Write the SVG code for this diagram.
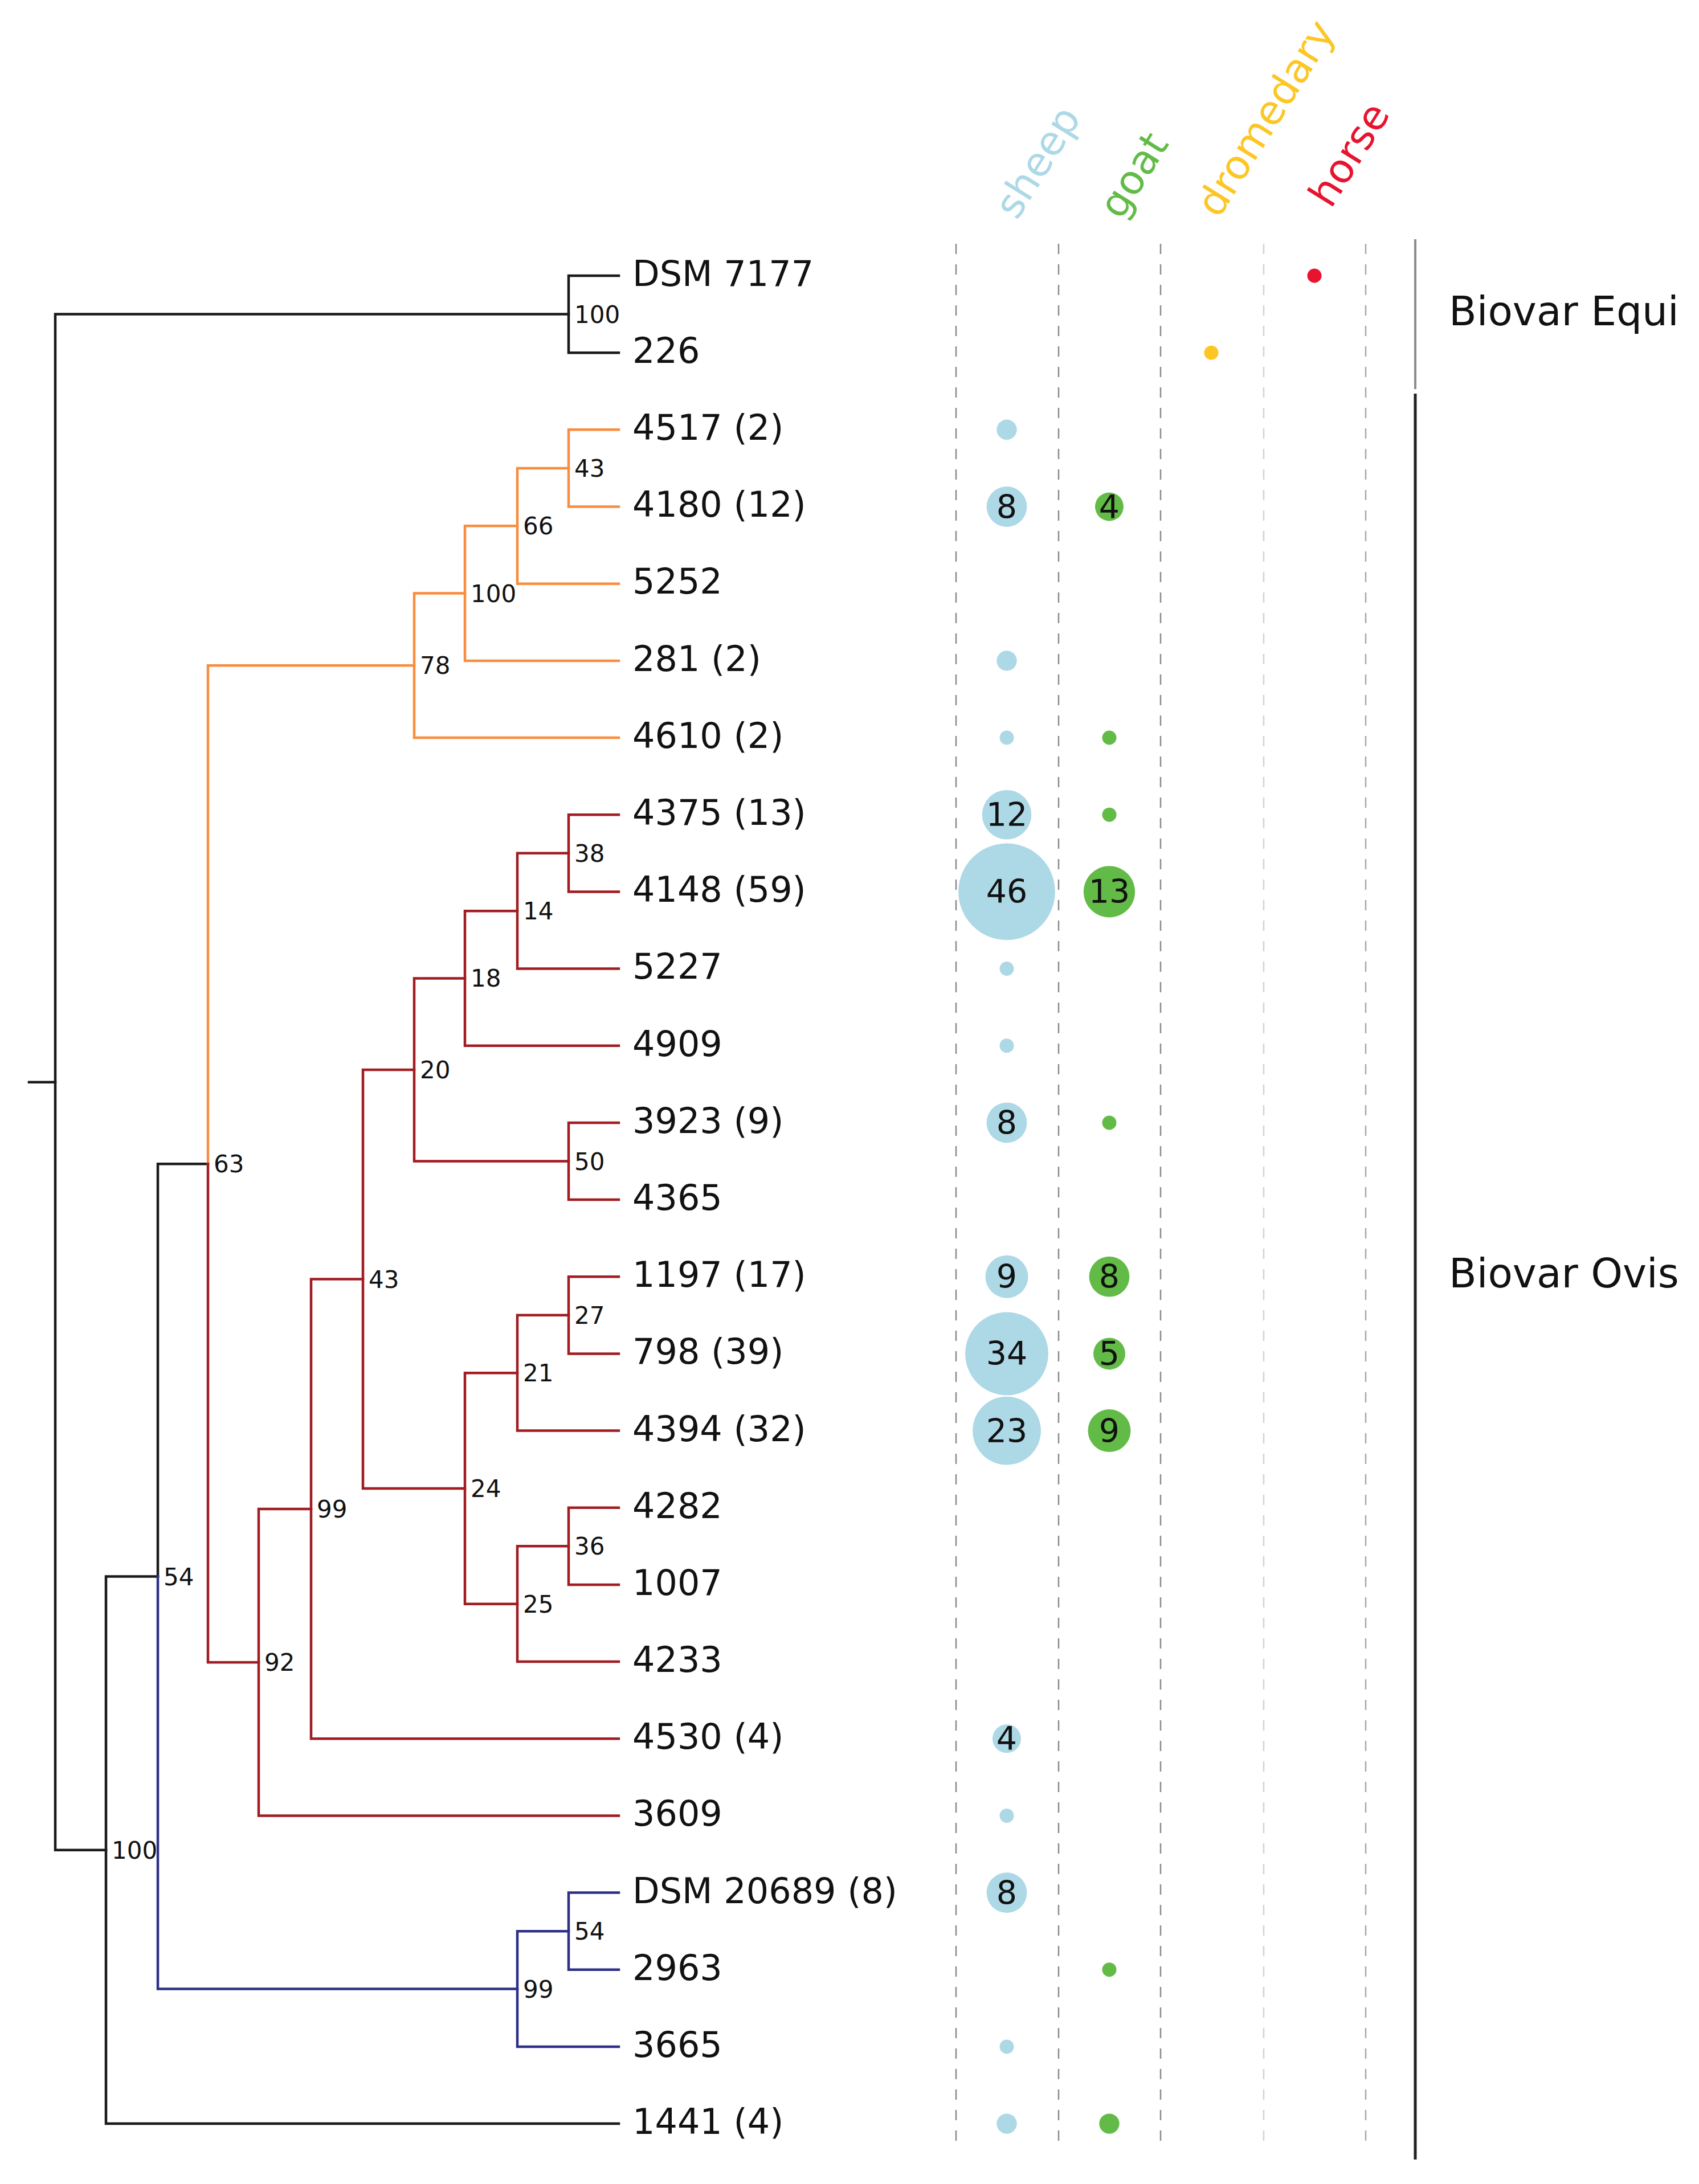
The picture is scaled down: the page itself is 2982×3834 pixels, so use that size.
<svg xmlns="http://www.w3.org/2000/svg" width="2982" height="3834" viewBox="0 0 2982 3834">
<style>
text{font-family:"DejaVu Sans","Liberation Sans",sans-serif;fill:#111}
.leaf{font-size:62px}
.bs{font-size:42px}
.num{font-size:57px;text-anchor:middle}
.biovar{font-size:71px}
.hdr{font-size:71px}
.br{fill:none;stroke-width:4.5;stroke-linecap:square;stroke-linejoin:miter}
.k{stroke:#1a1a1a}.o{stroke:#f98d3f}.r{stroke:#a11d22}.b{stroke:#2e3088}
.dash{stroke-width:2.5;stroke-dasharray:18 18}
.sh{fill:#add8e6}.gt{fill:#63bb47}.dr{fill:#fcc625}.hs{fill:#e8132e}
</style>
<rect width="2982" height="3834" fill="#fff"/>
<g id="columns">
<line class="dash" x1="1678" y1="428" x2="1678" y2="3764" stroke="#8a8a8a"/>
<line class="dash" x1="1858" y1="428" x2="1858" y2="3764" stroke="#8a8a8a"/>
<line class="dash" x1="2037" y1="428" x2="2037" y2="3764" stroke="#8a8a8a"/>
<line class="dash" x1="2218" y1="428" x2="2218" y2="3764" stroke="#d2d2d2"/>
<line class="dash" x1="2397" y1="428" x2="2397" y2="3764" stroke="#a8a8a8"/>
</g>
<g id="headers">
<text class="hdr" transform="translate(1785 388) rotate(-58)" style="fill:#add8e6">sheep</text>
<text class="hdr" transform="translate(1968 388) rotate(-58)" style="fill:#63bb47">goat</text>
<text class="hdr" transform="translate(2139 385) rotate(-58)" style="fill:#fcc625">dromedary</text>
<text class="hdr" transform="translate(2336 368) rotate(-58)" style="fill:#e8132e">horse</text>
</g>
<g id="connectors">
<path class="br k" d="M1086 484H998V619.2H1086"/>
<path class="br k" d="M998 551.6H97V3247.8H186"/>
<path class="br k" d="M51 1899.7H97"/>
<path class="br k" d="M277 2767.5H186V3728.1H1086"/>
<path class="br k" d="M365 2043.3H277V2767.5"/>
<path class="br o" d="M1086 754.3H998V889.5H1086"/>
<path class="br o" d="M998 821.9H908V1024.7H1086"/>
<path class="br o" d="M908 923.3H816V1159.9H1086"/>
<path class="br o" d="M816 1041.6H727V1295H1086"/>
<path class="br o" d="M727 1168.3H365V2043.3"/>
<path class="br r" d="M1086 1430.2H998V1565.4H1086"/>
<path class="br r" d="M998 1497.8H908V1700.5H1086"/>
<path class="br r" d="M908 1599.2H816V1835.7H1086"/>
<path class="br r" d="M1086 1970.9H998V2106H1086"/>
<path class="br r" d="M816 1717.4H727V2038.5H998"/>
<path class="br r" d="M1086 2241.2H998V2376.4H1086"/>
<path class="br r" d="M998 2308.8H908V2511.6H1086"/>
<path class="br r" d="M1086 2646.7H998V2781.9H1086"/>
<path class="br r" d="M998 2714.3H908V2917.1H1086"/>
<path class="br r" d="M908 2410.2H816V2815.7H908"/>
<path class="br r" d="M727 1878H637V2613H816"/>
<path class="br r" d="M637 2245.5H546V3052.2H1086"/>
<path class="br r" d="M546 2648.9H454V3187.4H1086"/>
<path class="br r" d="M365 2043.3V2918.2H454"/>
<path class="br b" d="M1086 3322.6H998V3457.7H1086"/>
<path class="br b" d="M998 3390.2H908V3592.9H1086"/>
<path class="br b" d="M277 2767.5V3491.6H908"/>
</g>
<g id="bootstrap">
<g id="n-equi"><text class="bs" x="1008" y="567">100</text></g>
<g id="n-o43"><text class="bs" x="1008" y="837">43</text></g>
<g id="n-o66"><text class="bs" x="918" y="938">66</text></g>
<g id="n-o100"><text class="bs" x="826" y="1057">100</text></g>
<g id="n-o78"><text class="bs" x="737" y="1183">78</text></g>
<g id="n-r38"><text class="bs" x="1008" y="1513">38</text></g>
<g id="n-r14"><text class="bs" x="918" y="1614">14</text></g>
<g id="n-r18"><text class="bs" x="826" y="1732">18</text></g>
<g id="n-r50"><text class="bs" x="1008" y="2054">50</text></g>
<g id="n-r20"><text class="bs" x="737" y="1893">20</text></g>
<g id="n-r27"><text class="bs" x="1008" y="2324">27</text></g>
<g id="n-r21"><text class="bs" x="918" y="2425">21</text></g>
<g id="n-r36"><text class="bs" x="1008" y="2729">36</text></g>
<g id="n-r25"><text class="bs" x="918" y="2831">25</text></g>
<g id="n-r24"><text class="bs" x="826" y="2628">24</text></g>
<g id="n-r43"><text class="bs" x="647" y="2261">43</text></g>
<g id="n-r99"><text class="bs" x="556" y="2664">99</text></g>
<g id="n-r92"><text class="bs" x="464" y="2933">92</text></g>
<g id="n-63"><text class="bs" x="375" y="2058">63</text></g>
<g id="n-b54"><text class="bs" x="1008" y="3405">54</text></g>
<g id="n-b99"><text class="bs" x="918" y="3507">99</text></g>
<g id="n-54"><text class="bs" x="287" y="2783">54</text></g>
<g id="n-100"><text class="bs" x="196" y="3263">100</text></g>
</g>
<g id="leaves">
<g id="leaf-dsm7177"><text class="leaf" x="1110" y="502">DSM 7177</text><circle class="hs" cx="2307" cy="484" r="12.5"/></g>
<g id="leaf-226"><text class="leaf" x="1110" y="637">226</text><circle class="dr" cx="2126" cy="619.2" r="12.5"/></g>
<g id="leaf-4517"><text class="leaf" x="1110" y="772">4517 (2)</text><circle class="sh" cx="1767" cy="754.3" r="17.7"/></g>
<g id="leaf-4180"><text class="leaf" x="1110" y="907">4180 (12)</text><circle class="sh" cx="1767" cy="889.5" r="35.4"/><text class="num" x="1767" y="910">8</text><circle class="gt" cx="1947" cy="889.5" r="25"/><text class="num" x="1947" y="910">4</text></g>
<g id="leaf-5252"><text class="leaf" x="1110" y="1042">5252</text></g>
<g id="leaf-281"><text class="leaf" x="1110" y="1178">281 (2)</text><circle class="sh" cx="1767" cy="1159.9" r="17.7"/></g>
<g id="leaf-4610"><text class="leaf" x="1110" y="1313">4610 (2)</text><circle class="sh" cx="1767" cy="1295" r="12.5"/><circle class="gt" cx="1947" cy="1295" r="12.5"/></g>
<g id="leaf-4375"><text class="leaf" x="1110" y="1448">4375 (13)</text><circle class="sh" cx="1767" cy="1430.2" r="43.3"/><text class="num" x="1767" y="1450">12</text><circle class="gt" cx="1947" cy="1430.2" r="12.5"/></g>
<g id="leaf-4148"><text class="leaf" x="1110" y="1583">4148 (59)</text><circle class="sh" cx="1767" cy="1565.4" r="84.8"/><text class="num" x="1767" y="1585">46</text><circle class="gt" cx="1947" cy="1565.4" r="45.1"/><text class="num" x="1947" y="1585">13</text></g>
<g id="leaf-5227"><text class="leaf" x="1110" y="1718">5227</text><circle class="sh" cx="1767" cy="1700.5" r="12.5"/></g>
<g id="leaf-4909"><text class="leaf" x="1110" y="1854">4909</text><circle class="sh" cx="1767" cy="1835.7" r="12.5"/></g>
<g id="leaf-3923"><text class="leaf" x="1110" y="1989">3923 (9)</text><circle class="sh" cx="1767" cy="1970.9" r="35.4"/><text class="num" x="1767" y="1991">8</text><circle class="gt" cx="1947" cy="1970.9" r="12.5"/></g>
<g id="leaf-4365"><text class="leaf" x="1110" y="2124">4365</text></g>
<g id="leaf-1197"><text class="leaf" x="1110" y="2259">1197 (17)</text><circle class="sh" cx="1767" cy="2241.2" r="37.5"/><text class="num" x="1767" y="2261">9</text><circle class="gt" cx="1947" cy="2241.2" r="35.4"/><text class="num" x="1947" y="2261">8</text></g>
<g id="leaf-798"><text class="leaf" x="1110" y="2394">798 (39)</text><circle class="sh" cx="1767" cy="2376.4" r="72.9"/><text class="num" x="1767" y="2396">34</text><circle class="gt" cx="1947" cy="2376.4" r="28"/><text class="num" x="1947" y="2396">5</text></g>
<g id="leaf-4394"><text class="leaf" x="1110" y="2530">4394 (32)</text><circle class="sh" cx="1767" cy="2511.6" r="59.9"/><text class="num" x="1767" y="2532">23</text><circle class="gt" cx="1947" cy="2511.6" r="37.5"/><text class="num" x="1947" y="2532">9</text></g>
<g id="leaf-4282"><text class="leaf" x="1110" y="2665">4282</text></g>
<g id="leaf-1007"><text class="leaf" x="1110" y="2800">1007</text></g>
<g id="leaf-4233"><text class="leaf" x="1110" y="2935">4233</text></g>
<g id="leaf-4530"><text class="leaf" x="1110" y="3070">4530 (4)</text><circle class="sh" cx="1767" cy="3052.2" r="25"/><text class="num" x="1767" y="3072">4</text></g>
<g id="leaf-3609"><text class="leaf" x="1110" y="3205">3609</text><circle class="sh" cx="1767" cy="3187.4" r="12.5"/></g>
<g id="leaf-dsm20689"><text class="leaf" x="1110" y="3341">DSM 20689 (8)</text><circle class="sh" cx="1767" cy="3322.6" r="35.4"/><text class="num" x="1767" y="3343">8</text></g>
<g id="leaf-2963"><text class="leaf" x="1110" y="3476">2963</text><circle class="gt" cx="1947" cy="3457.7" r="12.5"/></g>
<g id="leaf-3665"><text class="leaf" x="1110" y="3611">3665</text><circle class="sh" cx="1767" cy="3592.9" r="12.5"/></g>
<g id="leaf-1441"><text class="leaf" x="1110" y="3746">1441 (4)</text><circle class="sh" cx="1767" cy="3728.1" r="17.7"/><circle class="gt" cx="1947" cy="3728.1" r="17.7"/></g>
</g>
<g id="biovar-equi">
<line x1="2484" y1="420" x2="2484" y2="683" stroke="#8c8c8c" stroke-width="4"/>
<text class="biovar" x="2543" y="571">Biovar Equi</text>
</g>
<g id="biovar-ovis">
<line x1="2484" y1="691" x2="2484" y2="3791" stroke="#222" stroke-width="5"/>
<text class="biovar" x="2543" y="2260">Biovar Ovis</text>
</g>
</svg>
